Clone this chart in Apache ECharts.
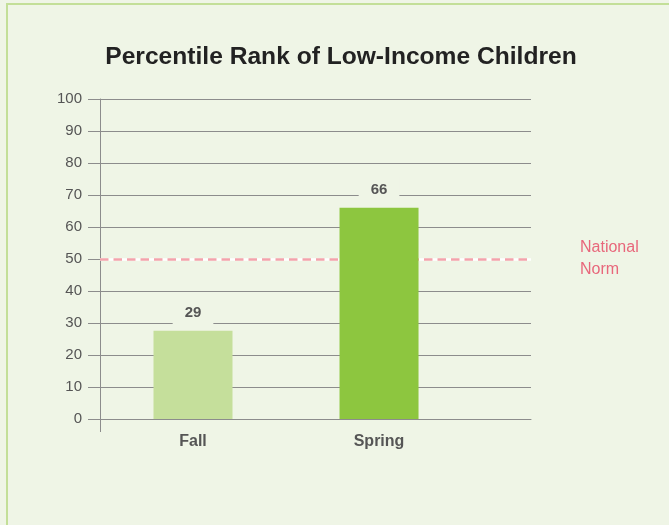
<!DOCTYPE html>
<html>
<head>
<meta charset="utf-8">
<script src="https://cdn.jsdelivr.net/npm/echarts@6/dist/echarts.min.js"></script>
<style>
  html, body { margin: 0; padding: 0; background: #eff5e6; overflow: hidden; width: 669px; height: 525px; }
  .edge { position: absolute; background: #c3df98; }
  #edgeL { left: 6px; top: 3px; width: 2px; height: 522px; }
  #edgeT { left: 6px; top: 3px; width: 663px; height: 2px; }
  #chart { position: absolute; left: 0; top: 0; width: 669px; height: 525px; }
</style>
</head>
<body>
<div class="edge" id="edgeL"></div>
<div class="edge" id="edgeT"></div>
<div id="chart"></div>
<script>
// ---- data ----
const categories = ['Fall', 'Spring'];
const barValues = [27.6, 66];          // bar heights as drawn
const barLabels = ['29', '66'];        // printed value labels
const barColors = ['#c5df9b', '#8dc63f'];
const yTicks = [0, 10, 20, 30, 40, 50, 60, 70, 80, 90, 100];
const normValue = 50;
const normLabel = 'National\nNorm';
const titleText = 'Percentile Rank of Low-Income Children';

// category slot positions on the value x-axis (1, 3, ...)
const slots = categories.map((c, i) => i * 2 + 1);

const chart = echarts.init(document.getElementById('chart'), null, { renderer: 'canvas' });
const gridColor = '#8c8c8c';
const textColor = '#555555';
const font = 'Liberation Sans, Arial, sans-serif';

chart.setOption({
  backgroundColor: 'transparent',
  animation: false,
  title: {
    text: titleText,
    left: 336,
    top: 39,
    textAlign: 'center',
    textStyle: { fontFamily: font, fontSize: 24.6, fontWeight: 'bold', color: '#222222', lineHeight: 26 }
  },
  grid: { left: 100, right: 138, top: 99, bottom: 106, containLabel: false },
  xAxis: {
    type: 'value',
    min: 0,
    max: 4.634,
    splitLine: { show: false },
    axisLine: { show: true, lineStyle: { color: gridColor, width: 1 } },
    axisTick: { show: true, customValues: [0], length: 13, lineStyle: { color: gridColor } },
    axisLabel: {
      show: true,
      customValues: slots,
      margin: 15,
      formatter: v => {
        const i = slots.indexOf(Math.round(v));
        return i >= 0 ? categories[i] : '';
      },
      fontFamily: font, fontSize: 16, fontWeight: 'bold', color: textColor
    }
  },
  yAxis: {
    type: 'value',
    min: yTicks[0],
    max: yTicks[yTicks.length - 1],
    interval: yTicks[1] - yTicks[0],
    axisLine: { show: true, lineStyle: { color: gridColor, width: 1 } },
    axisTick: { show: true, length: 12, lineStyle: { color: gridColor } },
    splitLine: { show: true, lineStyle: { color: gridColor, width: 1 } },
    axisLabel: { margin: 18, fontFamily: font, fontSize: 15, color: textColor }
  },
  series: [
    {
      type: 'line',
      z: 1,
      data: [],
      markLine: {
        silent: true,
        symbol: 'none',
        z: 1,
        data: [
          { yAxis: normValue, lineStyle: { color: '#ffffff', width: 2.5, type: 'solid' }, label: { show: false } },
          {
            yAxis: normValue,
            lineStyle: { color: '#f3a3ab', width: 2.5, type: [8.5, 5] },
            label: {
              show: true, position: 'end', distance: 49, formatter: normLabel,
              fontFamily: font, fontSize: 16, lineHeight: 22, color: '#e8677b', align: 'left'
            }
          }
        ]
      }
    },
    {
      type: 'bar',
      z: 3,
      barWidth: 79,
      data: categories.map((c, i) => ({
        value: [slots[i], barValues[i]],
        itemStyle: { color: barColors[i] },
        label: { formatter: barLabels[i] }
      })),
      label: {
        show: true,
        position: 'top',
        distance: 5,
        backgroundColor: '#eff5e6',
        padding: [5, 12],
        fontFamily: font, fontSize: 15, fontWeight: 'bold', color: textColor
      }
    }
  ]
});
</script>
</body>
</html>
